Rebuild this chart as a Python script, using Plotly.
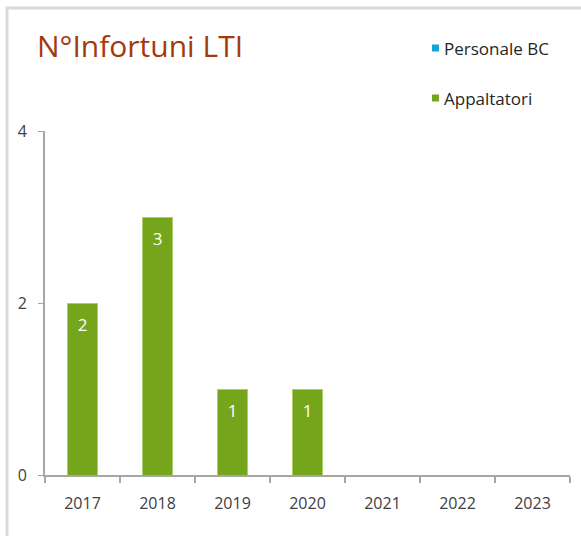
import plotly.graph_objects as go

years = ["2017", "2018", "2019", "2020", "2021", "2022", "2023"]
personale_bc = [0, 0, 0, 0, 0, 0, 0]
appaltatori = [2, 3, 1, 1, 0, 0, 0]
series_names = ["Personale BC", "Appaltatori"]
series_colors = ["#12A3D9", "#74A51B"]
title_text = "N°Infortuni LTI"

W, H = 581, 536
ml, mr, mt, mb = 45, 11, 131, 61
pw = W - ml - mr
ph = H - mt - mb

def px_x(p):
    return (p - ml) / pw

def px_y(p):
    return 1 - (p - mt) / ph

label_drop = 24 / ph * 4  # data units below the bar top for value labels

fig = go.Figure()
fig.add_trace(go.Bar(x=years, y=personale_bc, name=series_names[0],
                     marker=dict(color=series_colors[0]), showlegend=False,
                     hoverinfo="skip"))
fig.add_trace(go.Bar(x=years, y=appaltatori, name=series_names[1],
                     marker=dict(color=series_colors[1], line=dict(color="#A9CF6A", width=1)),
                     showlegend=False))
lab_x = [y for y, v in zip(years, appaltatori) if v]
lab_v = [v for v in appaltatori if v]
fig.add_trace(go.Scatter(x=lab_x, y=[v - label_drop for v in lab_v], mode="text",
                         text=[str(v) for v in lab_v], textposition="middle center",
                         textfont=dict(color="white", size=17, family="Open Sans"),
                         showlegend=False, hoverinfo="skip"))

fig.update_layout(
    barmode="stack",
    bargap=0.6,
    width=W, height=H,
    margin=dict(l=ml, r=mr, t=mt, b=mb),
    paper_bgcolor="white", plot_bgcolor="white",
    showlegend=False,
    font=dict(family="Open Sans", color="#404040", size=16),
    xaxis=dict(type="category", showline=True, linecolor="#A6A6A6", linewidth=2,
               ticks="outside", tickson="boundaries", ticklen=6, tickcolor="#A6A6A6",
               tickwidth=1.5, showgrid=False, tickfont=dict(size=16, color="#404040"),
               ticklabelstandoff=13),
    yaxis=dict(range=[0, 4], tickvals=[0, 2, 4], showline=True, linecolor="#A6A6A6",
               linewidth=2, ticks="outside", ticklen=5, tickcolor="#A6A6A6",
               showgrid=False, zeroline=False, tickfont=dict(size=16, color="#404040"),
               ticklabelstandoff=8),
)

# chart border
fig.add_shape(type="rect", xref="paper", yref="paper",
              x0=px_x(7), x1=px_x(W + 10), y0=px_y(H + 10), y1=px_y(8),
              line=dict(color="#D9D9D9", width=3), fillcolor="rgba(0,0,0,0)", layer="below")

# title
fig.add_annotation(text=title_text, xref="paper", yref="paper", x=px_x(35), y=px_y(45),
                   xanchor="left", yanchor="middle", showarrow=False,
                   font=dict(family="Open Sans", size=30, color="#A33A0B"))

# legend (manual)
legend_y = [48, 98]
for name, col, ly in zip(series_names, series_colors, legend_y):
    fig.add_shape(type="rect", xref="paper", yref="paper",
                  x0=px_x(432), x1=px_x(439), y0=px_y(ly + 3.5), y1=px_y(ly - 3.5),
                  fillcolor=col, line=dict(width=0))
    fig.add_annotation(text=name, xref="paper", yref="paper", x=px_x(442), y=px_y(ly),
                       xanchor="left", yanchor="middle", showarrow=False,
                       font=dict(family="Open Sans", size=17, color="#262626"))

fig.write_html("out.html", post_script="document.body.style.margin='0';",
               config={"displayModeBar": False})
